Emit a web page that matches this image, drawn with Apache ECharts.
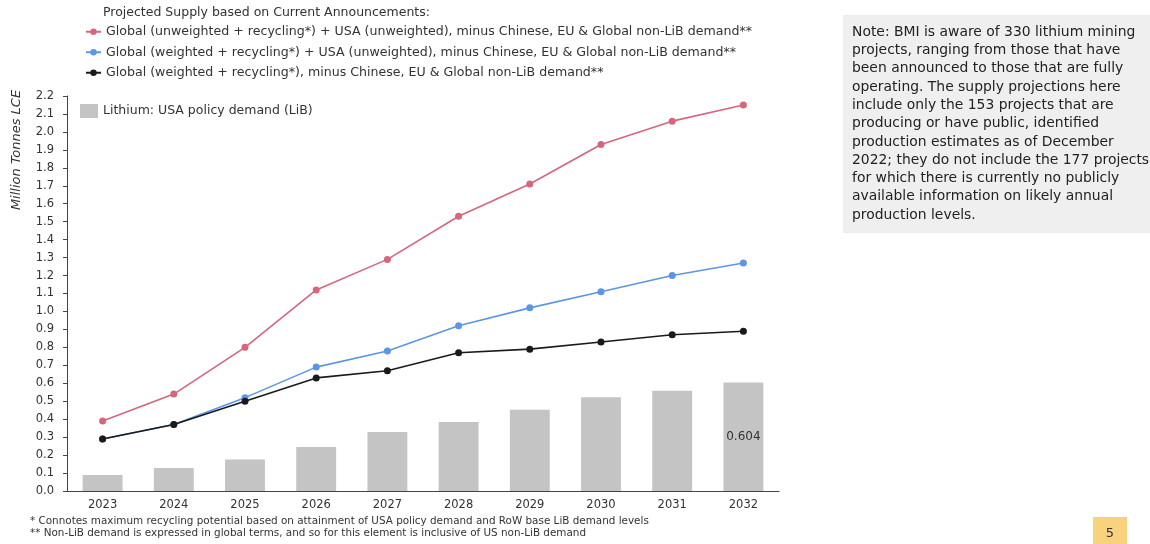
<!DOCTYPE html>
<html>
<head>
<meta charset="utf-8">
<script src="https://cdn.jsdelivr.net/npm/echarts@6/dist/echarts.min.js"></script>
<style>
  html, body { margin: 0; padding: 0; background: #fff; }
  #chart1 { width: 1150px; height: 544px; }
</style>
</head>
<body>
<div id="chart1"></div>
<script>
// years on the x axis
var years = ['2023', '2024', '2025', '2026', '2027', '2028', '2029', '2030', '2031', '2032'];

// projected supply lines (million tonnes LCE)
var unweightedUsa = [0.39, 0.54, 0.80, 1.12, 1.29, 1.53, 1.71, 1.93, 2.06, 2.15];
var weightedUsa = [0.29, 0.37, 0.52, 0.69, 0.78, 0.92, 1.02, 1.11, 1.20, 1.27];
var weightedOnly = [0.29, 0.37, 0.50, 0.63, 0.67, 0.77, 0.79, 0.83, 0.87, 0.89];

// USA policy demand bars
var usaDemand = [0.089, 0.128, 0.176, 0.245, 0.329, 0.384, 0.453, 0.522, 0.559, 0.604];

var seriesNames = [
    'Global (unweighted + recycling*) + USA (unweighted), minus Chinese, EU & Global non-LiB demand**',
    'Global (weighted + recycling*) + USA (unweighted), minus Chinese, EU & Global non-LiB demand**',
    'Global (weighted + recycling*), minus Chinese, EU & Global non-LiB demand**'
];
var barName = 'Lithium: USA policy demand (LiB)';
var colors = ['#d7667d', '#5b96e6', '#1a1a1a'];

var noteText = [
    'Note: BMI is aware of 330 lithium mining',
    'projects, ranging from those that have',
    'been announced to those that are fully',
    'operating. The supply projections here',
    'include only the 153 projects that are',
    'producing or have public, identified',
    'production estimates as of December',
    '2022; they do not include the 177 projects',
    'for which there is currently no publicly',
    'available information on likely annual',
    'production levels.'
].join('\n');

var footnotes = '* Connotes maximum recycling potential based on attainment of USA policy demand and RoW base LiB demand levels\n' +
    '** Non-LiB demand is expressed in global terms, and so for this element is inclusive of US non-LiB demand';

var font = 'DejaVu Sans';
var chart1 = echarts.init(document.getElementById('chart1'));

function lineSeries(i, data) {
    return {
        name: seriesNames[i],
        type: 'line',
        data: data,
        symbol: 'circle',
        symbolSize: 7,
        z: 3,
        lineStyle: { color: colors[i], width: 1.6 },
        itemStyle: { color: colors[i] }
    };
}

var option = {
    animation: false,
    textStyle: { fontFamily: font },
    title: {
        text: 'Projected Supply based on Current Announcements:',
        left: 98,
        top: 1,
        textStyle: { fontSize: 12.5, fontWeight: 'normal', color: '#333' }
    },
    legend: [
        {
            orient: 'vertical',
            left: 80,
            top: 19,
            itemWidth: 15,
            itemHeight: 8,
            itemGap: 5,
            textStyle: { fontSize: 12.6, color: '#333', lineHeight: 15.5 },
            data: seriesNames
        },
        {
            left: 75,
            top: 99,
            icon: 'rect',
            itemWidth: 18,
            itemHeight: 14,
            textStyle: { fontSize: 12.5, color: '#333' },
            data: [barName]
        }
    ],
    grid: { left: 67, right: 371, top: 96, bottom: 53 },
    xAxis: {
        type: 'category',
        data: years,
        axisLine: { lineStyle: { color: '#444', width: 1 } },
        axisTick: { show: false },
        axisLabel: { color: '#333', fontSize: 11.5, margin: 8 }
    },
    yAxis: {
        type: 'value',
        min: 0,
        max: 2.2,
        interval: 0.1,
        axisLine: { show: true, lineStyle: { color: '#444', width: 1 } },
        axisTick: { show: true, length: 4, lineStyle: { color: '#444' } },
        splitLine: { show: false },
        axisLabel: {
            color: '#333',
            fontSize: 11.5,
            margin: 13,
            formatter: function (v) { return v.toFixed(1); }
        }
    },
    series: [
        {
            name: barName,
            type: 'bar',
            data: usaDemand.map(function (v, i) {
                return i === usaDemand.length - 1
                    ? { value: v, label: { show: true, position: 'inside', formatter: '{c}', color: '#333', fontSize: 12 } }
                    : v;
            }),
            barWidth: '56%',
            itemStyle: { color: '#c4c4c4' },
            z: 1
        },
        lineSeries(0, unweightedUsa),
        lineSeries(1, weightedUsa),
        lineSeries(2, weightedOnly)
    ],
    graphic: [
        {
            type: 'text',
            x: 17,
            y: 150,
            rotation: Math.PI / 2,
            style: {
                text: 'Million Tonnes LCE',
                font: 'italic 13px "DejaVu Sans"',
                fill: '#333',
                textAlign: 'center',
                textVerticalAlign: 'middle'
            }
        },
        {
            type: 'rect',
            shape: { x: 843, y: 15, width: 320, height: 218 },
            style: { fill: '#efefef' }
        },
        {
            type: 'text',
            x: 852,
            y: 23,
            style: {
                text: noteText,
                font: '13.9px "DejaVu Sans"',
                lineHeight: 18.3,
                fill: '#222'
            }
        },
        {
            type: 'text',
            x: 30,
            y: 515,
            style: {
                text: footnotes,
                font: '10.4px "DejaVu Sans"',
                lineHeight: 12,
                fill: '#333'
            }
        },
        {
            type: 'rect',
            shape: { x: 1093, y: 517, width: 34, height: 27 },
            style: { fill: '#f8d27c' }
        },
        {
            type: 'text',
            x: 1110,
            y: 534,
            style: {
                text: '5',
                font: '13px "DejaVu Sans"',
                fill: '#333',
                textAlign: 'center',
                textVerticalAlign: 'middle'
            }
        }
    ]
};

chart1.setOption(option);
</script>
</body>
</html>
